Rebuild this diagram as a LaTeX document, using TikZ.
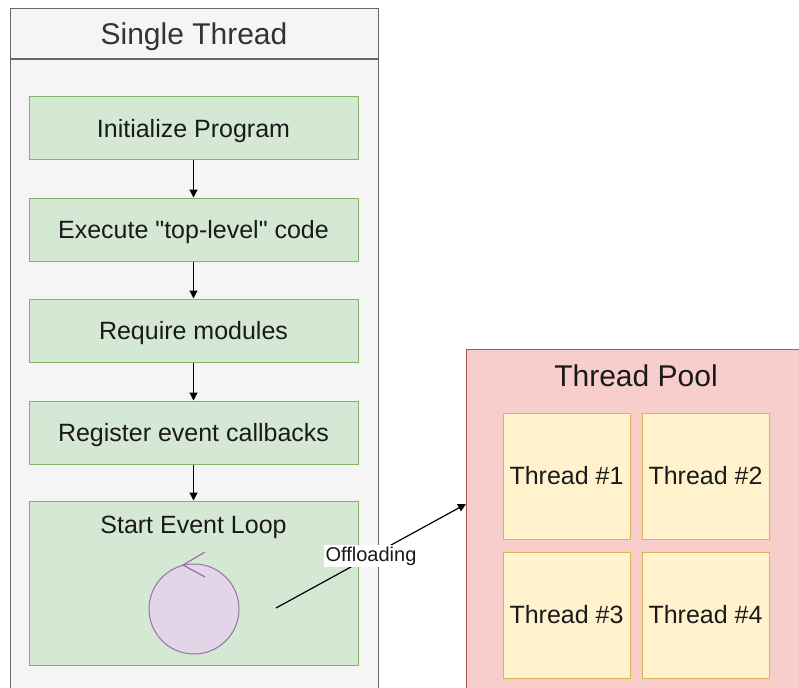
\documentclass[tikz,border=0pt]{standalone}
\usepackage{fontspec}
\setmainfont{Liberation Sans}[Ligatures=TeXOff]
\usetikzlibrary{arrows.meta}
\definecolor{stgray}{HTML}{F5F5F5}
\definecolor{stgrayline}{HTML}{666666}
\definecolor{gfill}{HTML}{D5E8D4}
\definecolor{gline}{HTML}{82B366}
\definecolor{rfill}{HTML}{F8CECC}
\definecolor{rline}{HTML}{B85450}
\definecolor{yfill}{HTML}{FFF2CC}
\definecolor{yline}{HTML}{D6B656}
\definecolor{pfill}{HTML}{E1D5E7}
\definecolor{pline}{HTML}{9673A6}
\definecolor{txt}{HTML}{1A1A1A}
\tikzset{
  px/.style={x=0.75pt,y=-0.75pt},
  bodyfont/.style={font=\fontsize{18.75pt}{22pt}\selectfont,text height=13pt,text depth=0pt},
  headfont/.style={font=\fontsize{22.5pt}{26pt}\selectfont,text height=16pt,text depth=0pt},
  stepbox/.style={draw=gline,fill=gfill,line width=0.75pt,inner sep=0pt,minimum width=246.75pt,minimum height=47.25pt,bodyfont,text=txt},
  thrbox/.style={draw=yline,fill=yfill,line width=0.75pt,inner sep=0pt,minimum width=95.25pt,minimum height=94.5pt,bodyfont,text=txt},
  flow/.style={-{Triangle[length=6pt,width=6pt]},line width=0.9pt,draw=black},
}
\begin{document}
\begin{tikzpicture}[px]
\useasboundingbox (0,0) rectangle (799,688);
\begin{scope}
\clip (0,0) rectangle (799,688);
% Single thread container
\node[draw=stgrayline,fill=stgray,line width=0.75pt,inner sep=0pt,minimum width=276pt,minimum height=480pt] (stbody) at (194,379.5) {};
\node[draw=stgrayline,fill=stgray,line width=0.75pt,inner sep=0pt,minimum width=276pt,minimum height=37.5pt,headfont,text=black!80] (sthead) at (194,34) {Single Thread};
% Thread pool container
\node[draw=rline,fill=rfill,line width=0.75pt,inner sep=0pt,minimum width=258pt,minimum height=263.25pt] (pool) at (638,524.5) {};
\end{scope}
\node[headfont,text=txt] (pooltitle) at (636,376) {Thread Pool};
% steps
\node[stepbox] (s1) at (193.5,128.5) {Initialize Program};
\node[stepbox] (s2) at (193.5,229.5) {Execute "top-level" code};
\node[stepbox] (s3) at (193.5,330.5) {Require modules};
\node[stepbox] (s4) at (193.5,432.5) {Register event callbacks};
\node[stepbox,minimum height=123pt] (s5) at (193.5,583) {};
\node[bodyfont,text=txt] (s5title) at (193.5,525) {Start Event Loop};
\draw[flow] (s1) -- (s2);
\draw[flow] (s2) -- (s3);
\draw[flow] (s3) -- (s4);
\draw[flow] (s4) -- (s5);
% loop circle
\node[circle,draw=pline,fill=pfill,line width=0.75pt,minimum size=67.5pt,inner sep=0pt] (loop) at (194,609) {};
\coordinate (la) at (205,552);
\coordinate (lb) at (183,565);
\coordinate (lc) at (205,577);
\draw[pline,line width=0.9pt] (la) -- (lb) -- (lc);
% threads
\node[thrbox] (t1) at (566.5,476) {Thread \#1};
\node[thrbox] (t2) at (705.5,476) {Thread \#2};
\node[thrbox] (t3) at (566.5,615) {Thread \#3};
\node[thrbox] (t4) at (705.5,615) {Thread \#4};
% offloading
\coordinate (offs) at (276,608);
\coordinate (offe) at (466,504);
\draw[flow] (offs) -- node[fill=white,inner sep=1.5pt,font=\fontsize{15pt}{17pt}\selectfont,text=txt] (offl) {Offloading} (offe);
\end{tikzpicture}
\end{document}
